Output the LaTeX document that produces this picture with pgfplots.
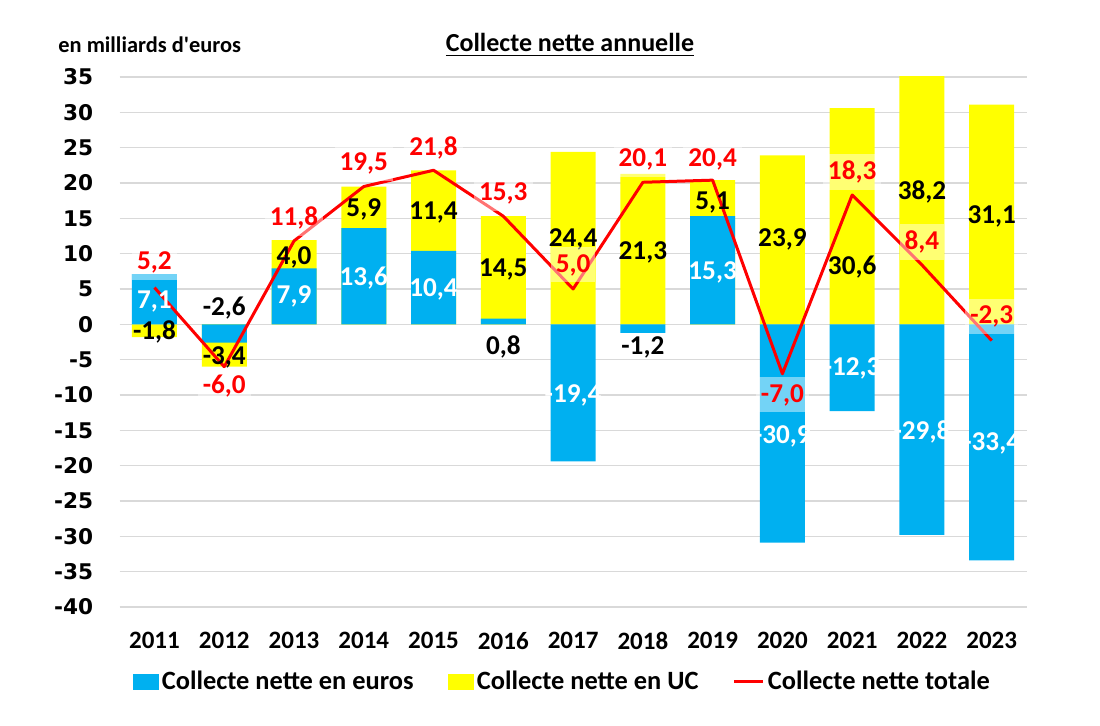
\documentclass[border=0pt]{standalone}
\usepackage{fontspec}
\setmainfont{Carlito}
\newfontfamily\dejavu{DejaVu Sans}
\usepackage{pgfplots}
\pgfplotsset{compat=1.18}
\usepackage{pgfplotstable}
\definecolor{xlblue}{HTML}{00B0F0}
\definecolor{xlyellow}{HTML}{FFFF00}
\definecolor{xlred}{HTML}{FF0000}
\definecolor{gridgray}{HTML}{D9D9D9}
\newcommand{\lbl}{\fontsize{13.6}{16}\selectfont\bfseries}

\pgfplotstableread{
year euro uc total
2011 7.1 -1.8 5.2
2012 -2.6 -3.4 -6.0
2013 7.9 4.0 11.8
2014 13.6 5.9 19.5
2015 10.4 11.4 21.8
2016 0.8 14.5 15.3
2017 -19.4 24.4 5.0
2018 -1.2 21.3 20.1
2019 15.3 5.1 20.4
2020 -30.9 23.9 -7.0
2021 -12.3 30.6 18.3
2022 -29.8 38.2 8.4
2023 -33.4 31.1 -2.3
}\data

\pgfplotstableread{
x y lab
2011 8.7 5,2
2012 -8.7 -6,0
2013 15.1 11,8
2014 22.8 19,5
2015 25.0 21,8
2016 18.5 15,3
2017 8.4 5,0
2018 23.3 20,1
2019 23.3 20,4
2020 -10.0 -7,0
2021 21.6 18,3
2022 11.7 8,4
2023 1.1 -2,3
}\redlabels

\pgfplotstableread{
x y lab
2011 -1.1 -1,8
2012 -4.7 -3,4
2013 9.5 4,0
2014 16.2 5,9
2015 15.8 11,4
2016 7.7 14,5
2017 12.0 24,4
2018 10.2 21,3
2019 17.3 5,1
2020 12.0 23,9
2021 8.1 30,6
2022 18.7 38,2
2023 15.2 31,1
2012 2.3 -2,6
2016 -3.2 0,8
2018 -3.2 -1,2
}\blacklabels

\pgfplotstableread{
x y lab
2011 3.2 7,1
2013 3.9 7,9
2014 6.6 13,6
2015 4.9 10,4
2017 -10.0 -19,4
2019 7.3 15,3
2020 -15.9 -30,9
2021 -6.2 -12,3
2022 -15.2 -29,8
2023 -16.8 -33,4
}\whitelabels

\begin{document}
\begin{tikzpicture}
\begin{axis}[
  at={(0pt,0pt)}, anchor=south west,
  scale only axis, width=453.5pt, height=265pt,
  xmin=2010.5, xmax=2023.5, ymin=-40, ymax=35,
  xtick={2011,2012,2013,2014,2015,2016,2017,2018,2019,2020,2021,2022,2023},
  xticklabels={2011,2012,2013,2014,2015,2016,2017,2018,2019,2020,2021,2022,2023},
  ytick={-40,-35,-30,-25,-20,-15,-10,-5,0,5,10,15,20,25,30,35},
  yticklabels={-40,-35,-30,-25,-20,-15,-10,-5,0,5,10,15,20,25,30,35},
  xticklabel style={font=\fontsize{12.5}{14}\selectfont\bfseries, anchor=center, yshift=-16.9pt},
  yticklabel style={font=\dejavu\bfseries\fontsize{10.8}{12}\selectfont, anchor=east, inner xsep=0pt, xshift=-13pt},
  ymajorgrids, grid style={color=gridgray, line width=0.75pt},
  axis line style={draw=none}, major tick length=0pt,
  clip mode=individual,
  legend columns=3,
  legend cell align=left,
  legend style={at={(0.014,-0.1406)}, anchor=west, draw=none, fill=none,
    inner xsep=0pt, inner ysep=0pt,
    font=\fontsize{13.2}{15}\selectfont\bfseries,
    nodes={inner xsep=0pt, inner ysep=1pt},
    /tikz/every odd column/.append style={column sep=1.7pt},
    /tikz/every even column/.append style={column sep=17pt}},
]
\addlegendimage{legend image code/.code={\fill[xlblue] (0pt,-3.75pt) rectangle (12.5pt,3.75pt);}}
\addlegendentry{Collecte nette en euros}
\addlegendimage{legend image code/.code={\fill[xlyellow] (0pt,-3.75pt) rectangle (12.5pt,3.75pt);}}
\addlegendentry{Collecte nette en UC}
\addlegendimage{legend image code/.code={\draw[xlred, line width=1.5pt] (0pt,0pt) -- (14.5pt,0pt);}}
\addlegendentry{Collecte nette totale}

% UC positive part (stacked above positive euros)
\addplot[ybar, bar width=22.5pt, bar shift=0pt, fill=xlyellow, draw=none, forget plot]
  table[x=year, y expr={\thisrow{uc}>0 ? max(\thisrow{euro},0)+\thisrow{uc} : 0}]{\data};
% UC negative part (stacked below negative euros)
\addplot[ybar, bar width=22.5pt, bar shift=0pt, fill=xlyellow, draw=none, forget plot]
  table[x=year, y expr={\thisrow{uc}<0 ? min(\thisrow{euro},0)+\thisrow{uc} : 0}]{\data};
% euros
\addplot[ybar, bar width=22.5pt, bar shift=0pt, fill=xlblue, draw=none, forget plot]
  table[x=year, y=euro]{\data};
% total line
\addplot[xlred, line width=1.5pt, line join=round, mark=none, forget plot]
  table[x=year, y=total]{\data};

% labels
\addplot[only marks, mark=none, forget plot, nodes near coords, point meta=explicit symbolic,
  every node near coord/.append style={text=black, font=\lbl, anchor=center}]
  table[x=x, y=y, meta=lab]{\blacklabels};
\addplot[only marks, mark=none, forget plot, nodes near coords, point meta=explicit symbolic,
  every node near coord/.append style={text=white, font=\lbl, anchor=center}]
  table[x=x, y=y, meta=lab]{\whitelabels};
\addplot[only marks, mark=none, forget plot, nodes near coords, point meta=explicit symbolic,
  every node near coord/.append style={text=xlred, font=\lbl, anchor=center,
    fill=white, fill opacity=0.45, text opacity=1, minimum height=17.5pt, inner xsep=2.5pt}]
  table[x=x, y=y, meta=lab]{\redlabels};
\end{axis}
\node[anchor=base, font=\fontsize{13}{15}\selectfont\bfseries] at (225.2pt,277.5pt) {\underline{Collecte nette annuelle}};
\node[anchor=base west, inner sep=0pt, font=\fontsize{11.2}{13}\selectfont\bfseries] at (-30.8pt,277pt) {en milliards d\textquotesingle euros};
\pgfresetboundingbox
\path[use as bounding box] (-59.8pt,-59.5pt) rectangle (490.2pt,303.5pt);
\end{tikzpicture}
\end{document}
